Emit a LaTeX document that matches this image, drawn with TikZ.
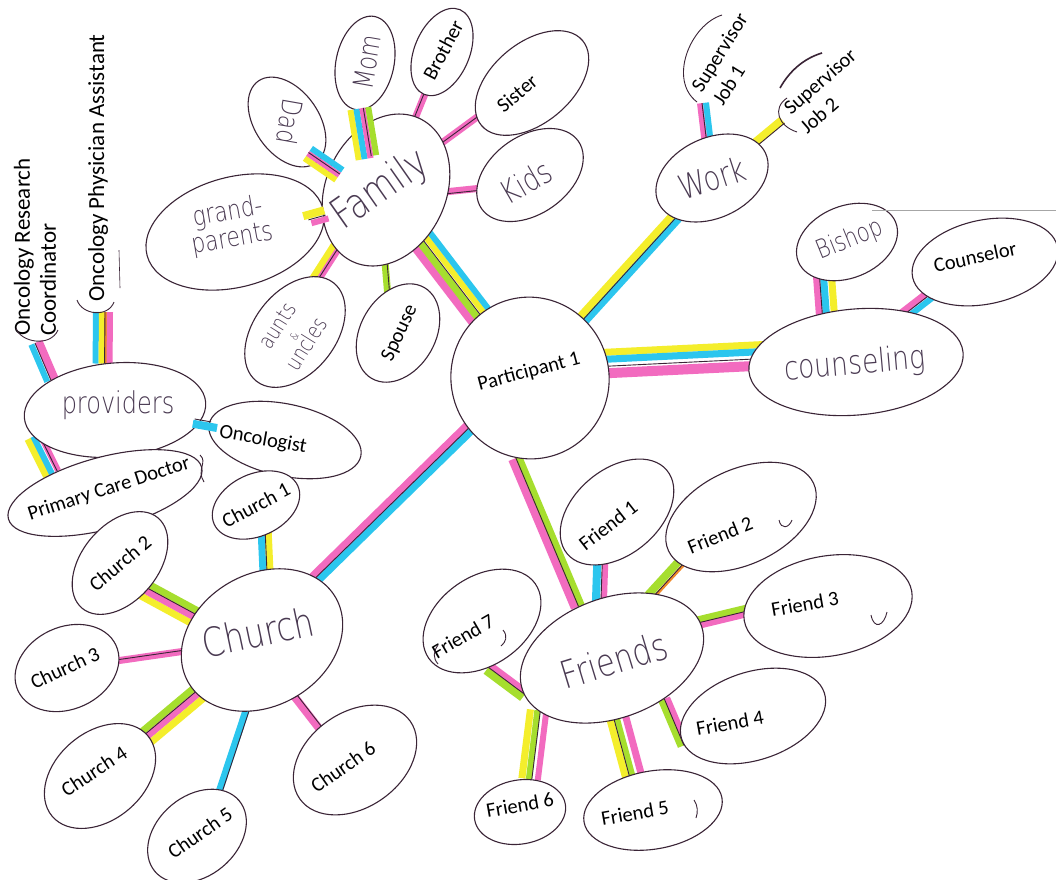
\documentclass[tikz,border=0pt]{standalone}
\usepackage{fontspec}
\setmainfont{Carlito}
\newfontfamily\hand[FakeStretch=0.8]{DejaVu Sans ExtraLight}
\usetikzlibrary{shapes.geometric,calc}
\definecolor{ink}{HTML}{3A2436}
\definecolor{pen}{HTML}{4A3A52}
\definecolor{hpink}{HTML}{F26BBF}
\definecolor{hcyan}{HTML}{2CC6EE}
\definecolor{hyel}{HTML}{F4EE2C}
\definecolor{hgrn}{HTML}{A6DE2E}
\definecolor{horg}{HTML}{F08A2A}
\pgfdeclarelayer{bg}
\pgfsetlayers{bg,main}
\newcommand\band[6][]{\draw[#1,draw=#5,line width=#6pt] ($(#2)!#4pt!90:(#3)$) -- ($(#3)!#4pt!-90:(#2)$);}
\newcommand\inkline[4][]{\draw[#1,draw=ink,line width=0.9pt] ($(#2)!#4pt!90:(#3)$) -- ($(#3)!#4pt!-90:(#2)$);}
\begin{document}
\begin{tikzpicture}[x=1pt,y=-1pt,
  bub/.style={ellipse, draw=ink, line width=1.1pt, fill=white, inner sep=0pt},
  lab/.style={font=\fontsize{20.5}{25}\selectfont, text=black, inner sep=0pt, align=center},
  biglab/.style={font=\fontsize{23}{26}\selectfont, text=black, inner sep=0pt},
  hw/.style={font=\hand\fontsize{#1}{#1}\selectfont, text=pen, inner sep=0pt, align=center},
  hw/.default=30,
  sk/.style={draw=ink, line width=0.9pt}]
\useasboundingbox (0,0) rectangle (1056,879);

% ---------- bubbles ----------
\node[bub, minimum width=158, minimum height=162, rotate=15] (P) at (530,378) {};
\node[bub, minimum width=158, minimum height=120, rotate=65] (fam) at (386,190) {};
\node[bub, minimum width=100, minimum height=64, rotate=-55] (dad) at (287,122) {};
\node[bub, minimum width=95, minimum height=58, rotate=78] (mom) at (365,63) {};
\node[bub, minimum width=92, minimum height=55, rotate=67] (bro) at (442,52) {};
\node[bub, minimum width=132, minimum height=80, rotate=40] (sis) at (532,83) {};
\node[bub, minimum width=118, minimum height=78, rotate=35] (kids) at (530,175) {};
\node[bub, minimum width=182, minimum height=110, rotate=15] (gp) at (235,232) {};
\node[bub, minimum width=125, minimum height=82, rotate=52] (au) at (295,332) {};
\node[bub, minimum width=105, minimum height=75, rotate=60] (sp) at (398,333) {};
\node[bub, minimum width=118, minimum height=80, rotate=25] (work) at (712,178) {};
\node[bub, minimum width=215, minimum height=106, rotate=5] (couns) at (856,362) {};
\node[bub, minimum width=105, minimum height=72, rotate=22] (bish) at (847,242) {};
\node[bub, minimum width=148, minimum height=84, rotate=12] (cslr) at (985,262) {};
\node[bub, minimum width=182, minimum height=94, rotate=5] (prov) at (115,410) {};
\node[bub, minimum width=155, minimum height=72, rotate=-12] (onc) at (285,440) {};
\node[bub, minimum width=200, minimum height=72, rotate=15] (pcd) at (105,493) {};
\node[bub, minimum width=170, minimum height=132, rotate=30] (church) at (262,640) {};
\node[bub, minimum width=92, minimum height=62, rotate=25] (c1) at (256,505) {};
\node[bub, minimum width=118, minimum height=76, rotate=50] (c2) at (120,563) {};
\node[bub, minimum width=108, minimum height=82, rotate=25] (c3) at (67,668) {};
\node[bub, minimum width=125, minimum height=88, rotate=40] (c4) at (100,776) {};
\node[bub, minimum width=110, minimum height=80, rotate=40] (c5) at (197,836) {};
\node[bub, minimum width=135, minimum height=95, rotate=35] (c6) at (355,760) {};
\node[bub, minimum width=190, minimum height=120, rotate=20] (friends) at (612,658) {};
\node[bub, minimum width=130, minimum height=85, rotate=40] (f1) at (617,512) {};
\node[bub, minimum width=160, minimum height=95, rotate=25] (f2) at (741,517) {};
\node[bub, minimum width=170, minimum height=100, rotate=10] (f3) at (828,606) {};
\node[bub, minimum width=150, minimum height=88, rotate=18] (f4) at (753,716) {};
\node[bub, minimum width=140, minimum height=78, rotate=10] (f5) at (653,810) {};
\node[bub, minimum width=92, minimum height=64, rotate=10] (f6) at (520,812) {};
\node[bub, minimum width=130, minimum height=88, rotate=35] (f7) at (482,621) {};

\coordinate (sj1e) at (703,103);
\coordinate (sj2e) at (782,120);
\coordinate (orce) at (35,343);
\coordinate (opae) at (103,312);

% ---------- stubs drawn over outlines ----------
\band[shorten <=47pt, shorten >=35pt]{fam}{dad}{20}{hyel}{6}
\band[shorten <=47pt, shorten >=35pt]{fam}{dad}{14}{hpink}{6}
\band[shorten <=47pt, shorten >=35pt]{fam}{dad}{8}{hcyan}{6}
\inkline[shorten <=47pt, shorten >=35pt]{fam}{dad}{13}
\band[shorten <=34pt, shorten >=44pt]{fam}{mom}{22}{hyel}{6}
\band[shorten <=34pt, shorten >=44pt]{fam}{mom}{16}{hcyan}{6}
\band[shorten <=34pt, shorten >=44pt]{fam}{mom}{10}{hpink}{6}
\band[shorten <=36pt, shorten >=44pt]{fam}{mom}{4}{hgrn}{6}
\inkline[shorten <=36pt, shorten >=44pt]{fam}{mom}{9}
\band[shorten <=65pt, shorten >=70pt]{fam}{gp}{3}{hyel}{8}
\band[shorten <=63pt, shorten >=76pt]{fam}{gp}{12}{hpink}{6}
\inkline[shorten <=65pt, shorten >=74pt]{fam}{gp}{8}
\band[shorten <=79pt, shorten >=69pt]{prov}{onc}{0}{hcyan}{8}
\inkline[shorten <=80pt, shorten >=76pt]{prov}{onc}{5}

% ---------- labels ----------
\node[lab, rotate=15] (tP) at (529,372) {Participant 1};
\node[hw=42, rotate=35] (tfam) at (381,190) {Family};
\node[hw=28, rotate=-100] (tdad) at (290,122) {Dad};
\node[hw=28, rotate=80] (tmom) at (367,62) {Mom};
\node[lab, rotate=62] (tbro) at (443,50) {Brother};
\node[lab, rotate=40] (tsis) at (517,93) {Sister};
\node[hw=32, rotate=30] (tkids) at (526,182) {Kids};
\node[hw=27, rotate=10] (tgp) at (230,226) {grand-\\parents};
\node[hw=22, rotate=58] (tau) at (292,335) {aunts\\[-6pt]{\fontsize{11}{11}\selectfont\&}\\[-4pt]uncles};
\node[lab, rotate=65] (tsp) at (400,333) {Spouse};
\node[hw=34, rotate=18] (twork) at (712,178) {Work};
\node[lab, rotate=58, align=left] (sj1) at (730,59) {Supervisor\\Job 1};
\node[lab, rotate=41, align=left] (sj2) at (828,91) {Supervisor\\Job 2};
\node[hw=33, rotate=5] (tcouns) at (855,365) {counseling};
\node[hw=26, rotate=22] (tbish) at (850,240) {Bishop};
\node[lab, rotate=12] (tcslr) at (975,257) {Counselor};
\node[hw=30] (tprov) at (118,405) {providers};
\node[biglab, rotate=90, anchor=west, align=left] (orc) at (35,336) {Oncology Research\\Coordinator};
\node[biglab, rotate=90, anchor=west] (opa) at (98,302) {Oncology Physician Assistant};
\node[lab, rotate=-10] (tonc) at (263,440) {Oncologist};
\node[lab, rotate=18] (tpcd) at (109,489) {Primary Care Doctor};
\node[hw=40, rotate=12] (tchurch) at (258,632) {Church};
\node[lab, rotate=28] (tc1) at (256,505) {Church 1};
\node[lab, rotate=40] (tc2) at (120,563) {Church 2};
\node[lab, rotate=25] (tc3) at (65,668) {Church 3};
\node[lab, rotate=33] (tc4) at (94,771) {Church 4};
\node[lab, rotate=35] (tc5) at (200,833) {Church 5};
\node[lab, rotate=35] (tc6) at (343,767) {Church 6};
\node[hw=38, rotate=17] (tfriends) at (614,660) {Friends};
\node[lab, rotate=38] (tf1) at (608,525) {Friend 1};
\node[lab, rotate=22] (tf2) at (720,535) {Friend 2};
\node[lab, rotate=10] (tf3) at (805,604) {Friend 3};
\node[lab, rotate=10] (tf4) at (730,723) {Friend 4};
\node[lab, rotate=10] (tf5) at (635,813) {Friend 5};
\node[lab, rotate=10] (tf6) at (520,805) {Friend 6};
\node[lab, rotate=30] (tf7) at (463,636) {Friend 7};

% ---------- sketch marks ----------
\draw[sk] (722,15) .. controls (690,25) and (668,80) .. (697,102);
\draw[sk] (787,98) .. controls (772,108) and (778,126) .. (797,132);
\draw[sk, line width=1.6pt] (780,88) .. controls (790,70) and (805,58) .. (822,53);
\draw[sk] (16,328) .. controls (20,342) and (50,348) .. (58,330);
\draw[sk] (77,300) .. controls (82,315) and (108,318) .. (114,302);
\draw[sk, line width=0.6pt] (119,250) -- (120,288);
\draw[sk] (200,455) .. controls (208,462) and (196,470) .. (204,482);
\draw[draw=gray!70, line width=0.8pt] (872,210) -- (1056,210);
\draw[sk] (779,520) .. controls (781,530) and (789,528) .. (792,520);
\draw[sk] (871,615) .. controls (874,630) and (884,626) .. (887,612);
\draw[sk] (694,800) .. controls (698,806) and (698,812) .. (696,818);
\draw[sk] (438,645) .. controls (433,652) and (433,658) .. (438,664);
\draw[sk] (503,630) .. controls (508,636) and (506,642) .. (501,646);

% ---------- connectors ----------
\begin{pgfonlayer}{bg}
\fill[white] (0,0) rectangle (1056,879);
\band{fam}{P}{-12}{hpink}{8}
\band{fam}{P}{-5}{hgrn}{7}
\band{fam}{P}{3}{hyel}{6}
\band{fam}{P}{9}{hcyan}{6}
\inkline{fam}{P}{-1}
\band{P}{work}{4}{hyel}{8}
\band{P}{work}{-3}{hcyan}{7}
\inkline{P}{work}{0}
\band{P}{couns}{22}{hyel}{7}
\band{P}{couns}{15}{hcyan}{7}
\band{P}{couns}{1}{hpink}{10}
\inkline{P}{couns}{8}
\band{P.245}{friends.103}{-4}{hpink}{8}
\band{P.245}{friends.103}{3}{hgrn}{7}
\inkline{P.245}{friends.103}{0}
\band{P}{church}{-10}{hpink}{8}
\band{P}{church}{-3}{hcyan}{7}
\inkline{P}{church}{-7}
% family
\band{fam}{bro}{0}{hpink}{7}
\inkline{fam}{bro}{1}
\band{fam}{sis}{5}{hpink}{7}
\inkline{fam}{sis}{5}
\band{fam}{kids}{-8}{hpink}{7}
\inkline{fam}{kids}{-10}
\band{fam}{au}{-14}{hyel}{7}
\band{fam}{au}{-8}{hpink}{6}
\inkline{fam}{au}{-9}
\band{fam}{sp}{-7}{hgrn}{7}
\inkline{fam}{sp}{-5}
% work
\band{work}{sj1e}{3}{hpink}{6}
\band{work}{sj1e}{-3}{hcyan}{6}
\inkline{work}{sj1e}{1}
\band{work}{sj2e}{0}{hyel}{8}
\inkline{work}{sj2e}{-4}
% counseling
\band{bish}{couns}{-33}{hpink}{7}
\band{bish}{couns}{-26}{hcyan}{7}
\band{bish}{couns}{-18}{hyel}{7}
\inkline{bish}{couns}{-30}
\band{cslr}{couns}{-11}{hpink}{7}
\band{cslr}{couns}{-4}{hcyan}{6}
\inkline{cslr}{couns}{-8}
% providers
\band{prov.150}{orce}{4}{hcyan}{6}
\band{prov.150}{orce}{-4}{hpink}{8}
\inkline{prov.150}{orce}{0}
\band{prov.100}{opae}{7}{hcyan}{6}
\band{prov.100}{opae}{1}{hyel}{6}
\band{prov.100}{opae}{-3}{horg}{3}
\band{prov.100}{opae}{-7}{hpink}{6}
\inkline{prov.100}{opae}{-2}
\band{prov.193}{pcd.145}{-6}{hyel}{7}
\band{prov.193}{pcd.145}{0}{hcyan}{6}
\band{prov.193}{pcd.145}{7}{hpink}{6}
\inkline{prov.193}{pcd.145}{6}
% church
\band{c1}{church}{4}{hcyan}{7}
\band{c1}{church}{11}{hyel}{7}
\inkline{c1}{church}{8}
\band{c2}{church}{-19}{hyel}{7}
\band{c2}{church}{-12}{hpink}{7}
\band{c2}{church}{-5}{hgrn}{7}
\inkline{c2}{church}{-9}
\band{c3}{church}{0}{hpink}{7}
\inkline{c3}{church}{1}
\band{c4}{church}{7}{hgrn}{7}
\band{c4}{church}{0}{hpink}{7}
\band{c4}{church}{-7}{hyel}{7}
\inkline{c4}{church}{3}
\band{c5}{church}{-7}{hcyan}{7}
\inkline{c5}{church}{-10}
\band{c6}{church}{9}{hpink}{8}
\inkline{c6}{church}{6}
% friends
\band{f1}{friends}{-18}{hcyan}{8}
\band{f1}{friends}{-10}{hpink}{6}
\inkline{f1}{friends}{-13}
\band{f2}{friends}{-16}{hgrn}{8}
\band{f2}{friends}{-10}{horg}{3}
\inkline{f2}{friends}{-11}
\band{f3}{friends}{-17}{hgrn}{7}
\band{f3}{friends}{-11}{hpink}{6}
\inkline{f3}{friends}{-14}
\band{friends.-58}{f4.185}{-3}{hgrn}{7}
\band{friends.-58}{f4.185}{3}{hpink}{6}
\inkline{friends.-58}{f4.185}{0}
\band{f5}{friends}{18}{hyel}{7}
\band{f5}{friends}{11}{hgrn}{6}
\band{f5}{friends}{2}{hpink}{7}
\inkline{f5}{friends}{14}
\band{friends.195}{f6.65}{-7}{hyel}{7}
\band{friends.195}{f6.65}{0}{hgrn}{6}
\band{friends.195}{f6.65}{9}{hpink}{6}
\inkline{friends.195}{f6.65}{3}
\band{f7.242}{friends.183}{-3}{hgrn}{8}
\band{f7.242}{friends.183}{4}{hpink}{6}
\inkline{f7.242}{friends.183}{1}
\end{pgfonlayer}
\end{tikzpicture}
\end{document}
